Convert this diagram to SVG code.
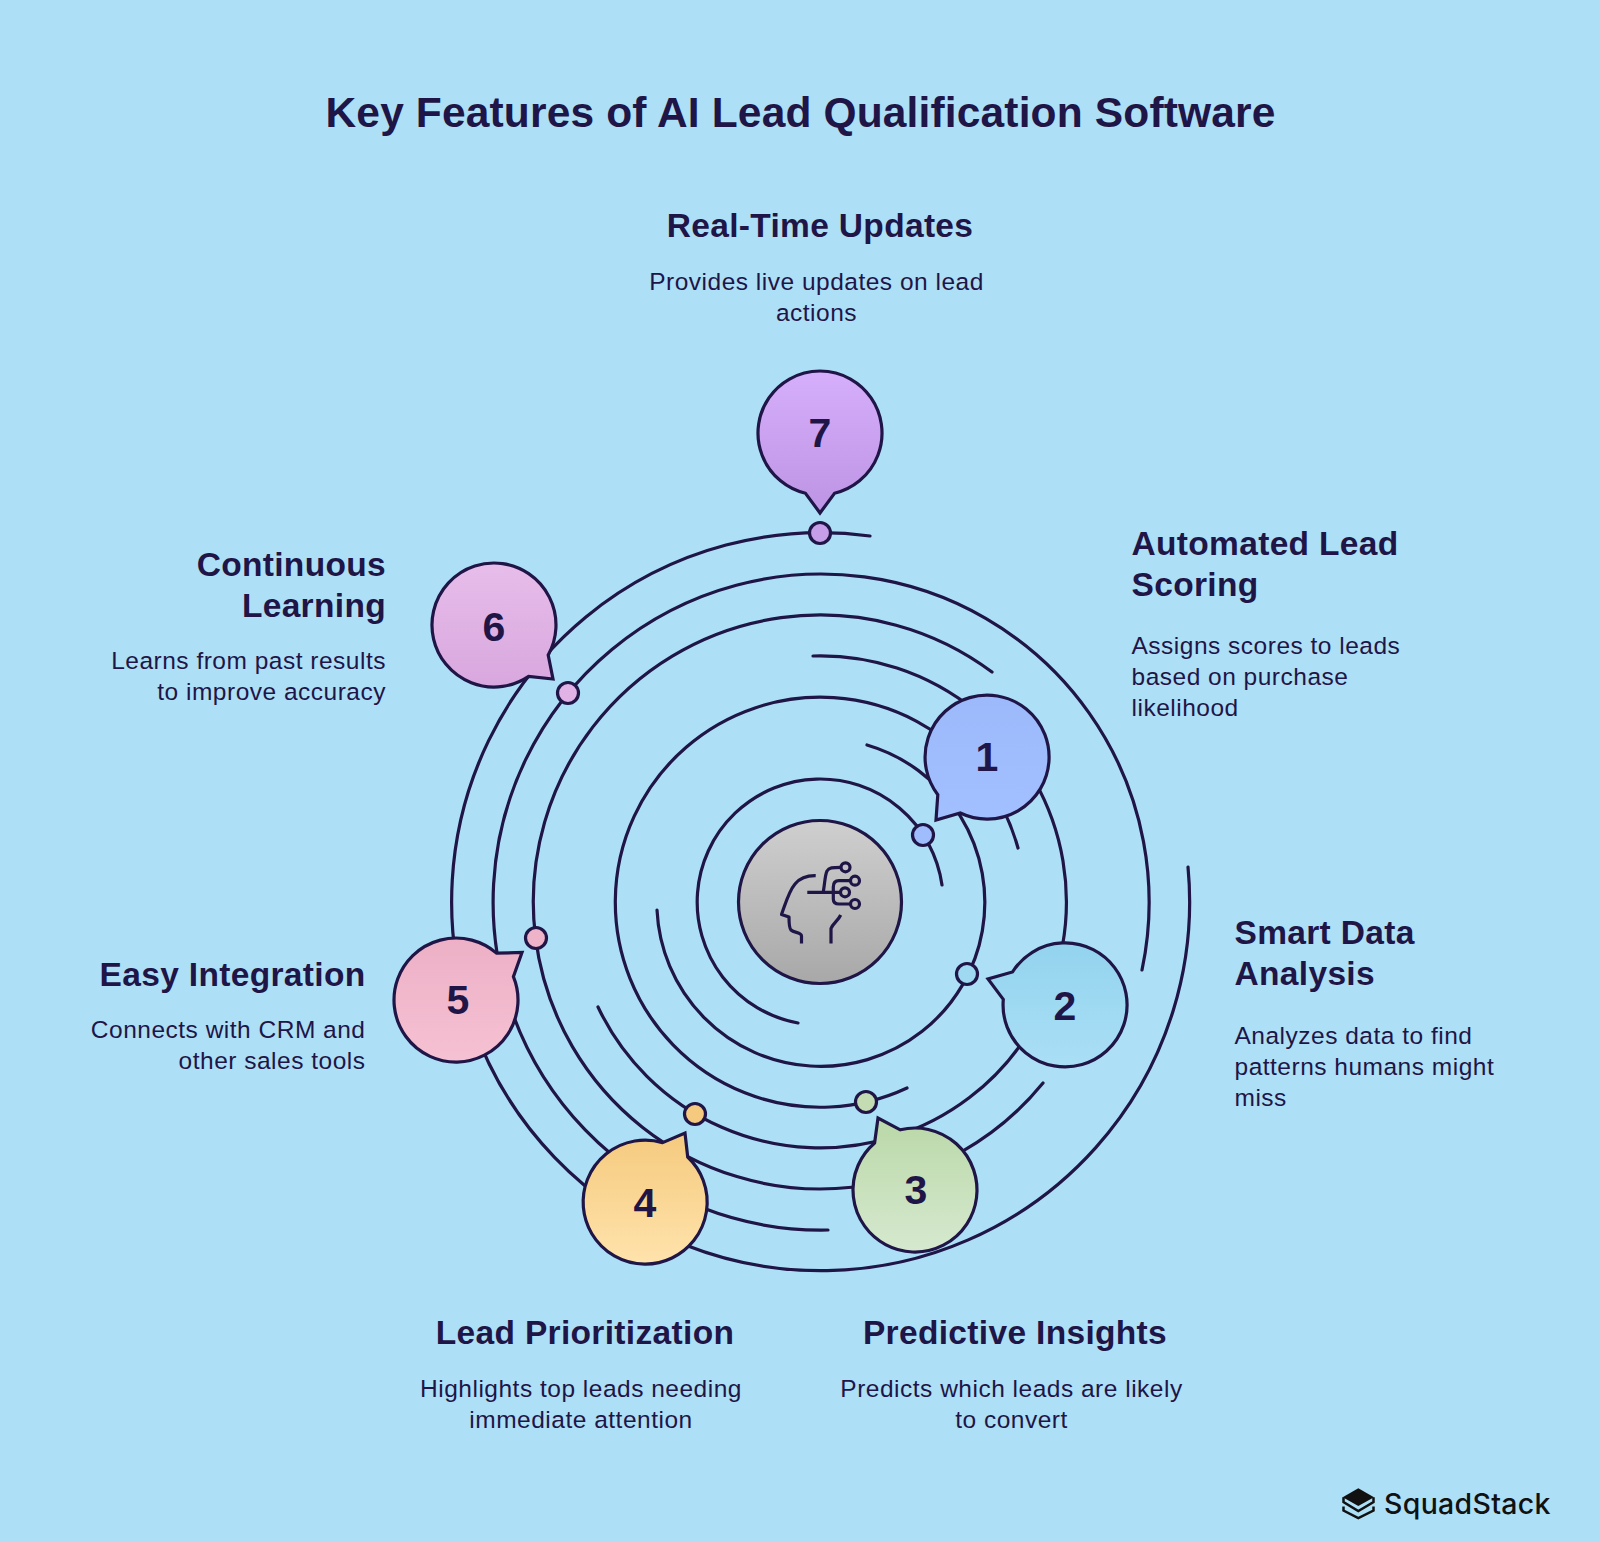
<svg xmlns="http://www.w3.org/2000/svg" width="1600" height="1542" viewBox="0 0 1600 1542">
<style>
text{font-family:"Liberation Sans",Arial,sans-serif;fill:#1f1546}
.t{font-size:42.5px;font-weight:700;text-anchor:middle;letter-spacing:.15px}
.h{font-size:33.5px;font-weight:700;letter-spacing:.33px}
.b{font-size:24.5px;letter-spacing:.5px}
.n{font-size:41px;font-weight:700;text-anchor:middle}
.m{text-anchor:middle}.e{text-anchor:end}
.ln{fill:none;stroke:#1f1546;stroke-width:3.2;stroke-linecap:round}
.o{stroke:#1f1546;stroke-width:3.2;stroke-linejoin:miter}
.ic{fill:none;stroke:#1f1546;stroke-width:3.2;stroke-linecap:butt;stroke-linejoin:round}
</style>
<defs>
<linearGradient id="g0" x1="0" y1="0" x2="0" y2="1"><stop offset="0" stop-color="#cfcfcf"/><stop offset="1" stop-color="#a8a8a8"/></linearGradient>
<linearGradient id="g1" x1="0" y1="0" x2="0" y2="1"><stop offset="0" stop-color="#9cb9fb"/><stop offset="1" stop-color="#a2bfff"/></linearGradient>
<linearGradient id="g2" x1="0" y1="0" x2="0" y2="1"><stop offset="0" stop-color="#93d3ee"/><stop offset="1" stop-color="#aadff6"/></linearGradient>
<linearGradient id="g3" x1="0" y1="0" x2="0" y2="1"><stop offset="0" stop-color="#bad8a8"/><stop offset="1" stop-color="#d6e9cf"/></linearGradient>
<linearGradient id="g4" x1="0" y1="0" x2="0" y2="1"><stop offset="0" stop-color="#f5ca7e"/><stop offset="1" stop-color="#ffe3ac"/></linearGradient>
<linearGradient id="g5" x1="0" y1="0" x2="0" y2="1"><stop offset="0" stop-color="#edb0c6"/><stop offset="1" stop-color="#f6c1d3"/></linearGradient>
<linearGradient id="g6" x1="0" y1="0" x2="0" y2="1"><stop offset="0" stop-color="#e7bdea"/><stop offset="1" stop-color="#d8a7de"/></linearGradient>
<linearGradient id="g7" x1="0" y1="0" x2="0" y2="1"><stop offset="0" stop-color="#d5aefc"/><stop offset="1" stop-color="#bd94e3"/></linearGradient>
</defs>
<rect width="1600" height="1542" fill="#ade0f7"/>
<text class="t" x="800.5" y="127">Key Features of AI Lead Qualification Software</text>
<g id="connectors">
<path class="ln" d="M798 1023A123 123 0 1 1 942 885"/>
<path class="ln" d="M867 745A164 164 0 1 1 657 910"/>
<path class="ln" d="M907 1088A205 205 0 1 1 1018 848"/>
<path class="ln" d="M813 656A246 246 0 1 1 598 1007"/>
<path class="ln" d="M1043 1083A287 287 0 1 1 992 672"/>
<path class="ln" d="M828 1230A328 328 0 1 1 1142 970"/>
<path class="ln" d="M1188 867A369 369 0 1 1 870 536"/>
</g>
<g id="center"><circle cx="820" cy="902" r="81.5" fill="url(#g0)" class="o"/>
<path class="ic" d="M815.7 875.7C807 875.5 800 878 795 884C789 891 786 902 781.5 914.5L789 917C789 923 789 928 791 930C794 933 801.5 932 801.5 936V943.5M831 943.5V928.5C833 923 838 921 840.7 915M807.3 892.3H840.5M823.3 891.7C825 882 825 875 827 871C829 867.500 832 867.300 841.500 867.300M850.500 880.700H839C835 880.700 833.300 883 833.300 887V899C833.300 902.500 835 904 839 904H850.500"/>
<circle class="ic" cx="845.500" cy="867.300" r="4.500"/><circle class="ic" cx="855" cy="880.700" r="4.500"/><circle class="ic" cx="845" cy="892.300" r="4.500"/><circle class="ic" cx="855" cy="904" r="4.500"/>
</g>
<g id="node-1"><circle cx="923" cy="835" r="10.500" fill="#9fbcfd" class="o"/><path class="o" fill="url(#g1)" d="M937.8 794.7A62 62 0 1 1 960.3 813L936 820Z"/><text class="n" x="987" y="771">1</text>
<text class="h" x="1131.500" y="555">Automated Lead</text><text class="h" x="1131.500" y="596">Scoring</text>
<text class="b" x="1131.500" y="654">Assigns scores to leads</text><text class="b" x="1131.500" y="685">based on purchase</text><text class="b" x="1131.500" y="716">likelihood</text></g>
<g id="node-2"><circle cx="967" cy="974" r="10.500" fill="#9ed8f1" class="o"/><path class="o" fill="url(#g2)" d="M1012.5 972A62 62 0 1 1 1003.3 999.4L988 979Z"/><text class="n" x="1065" y="1020">2</text>
<text class="h" x="1234.500" y="944">Smart Data</text><text class="h" x="1234.500" y="985">Analysis</text>
<text class="b" x="1234.500" y="1044">Analyzes data to find</text><text class="b" x="1234.500" y="1075">patterns humans might</text><text class="b" x="1234.500" y="1106">miss</text></g>
<g id="node-3"><circle cx="866" cy="1102" r="10.500" fill="#c4dcb2" class="o"/><path class="o" fill="url(#g3)" d="M900.3 1129.8A62 62 0 1 1 874.6 1143L878 1118Z"/><text class="n" x="916" y="1204">3</text>
<text class="h m" x="1015" y="1344">Predictive Insights</text>
<text class="b m" x="1011.500" y="1397">Predicts which leads are likely</text><text class="b m" x="1011.500" y="1428">to convert</text></g>
<g id="node-4"><circle cx="695" cy="1114" r="10.500" fill="#f6ca7e" class="o"/><path class="o" fill="url(#g4)" d="M687.7 1157A62 62 0 1 1 662.6 1142.600L685 1133Z"/><text class="n" x="645" y="1217">4</text>
<text class="h m" x="585" y="1344">Lead Prioritization</text>
<text class="b m" x="581" y="1397">Highlights top leads needing</text><text class="b m" x="581" y="1428">immediate attention</text></g>
<g id="node-5"><circle cx="536" cy="938" r="10.500" fill="#eeb3c8" class="o"/><path class="o" fill="url(#g5)" d="M513.4 976.6A62 62 0 1 1 496.5 953.1L522 952.5Z"/><text class="n" x="458" y="1014">5</text>
<text class="h e" x="365.500" y="986">Easy Integration</text>
<text class="b e" x="365.500" y="1038">Connects with CRM and</text><text class="b e" x="365.500" y="1069">other sales tools</text></g>
<g id="node-6"><circle cx="568" cy="693" r="10.500" fill="#e1b2e5" class="o"/><path class="o" fill="url(#g6)" d="M528.7 676.4A62 62 0 1 1 548.2 655.1L553 679Z"/><text class="n" x="494" y="641">6</text>
<text class="h e" x="386" y="575.500">Continuous</text><text class="h e" x="386" y="616.500">Learning</text>
<text class="b e" x="386" y="669">Learns from past results</text><text class="b e" x="386" y="700">to improve accuracy</text></g>
<g id="node-7"><circle cx="820" cy="533" r="10.500" fill="#c59de9" class="o"/><path class="o" fill="url(#g7)" d="M805.5 493.3A62 62 0 1 1 834.5 493.3L820 513Z"/><text class="n" x="820" y="447">7</text>
<text class="h m" x="820" y="237">Real-Time Updates</text>
<text class="b m" x="816.500" y="290">Provides live updates on lead</text><text class="b m" x="816.500" y="321">actions</text></g>
<g id="logo"><path fill="#111" d="M1358.300 1488.300L1374 1497.300L1358.300 1506L1342.700 1497.300Z"/><path fill="none" stroke="#111" stroke-width="2.500" d="M1343.500 1497.300V1502L1358.300 1511L1373.500 1502V1497.300M1343.500 1506.500V1510.500L1358.300 1518L1373.500 1510.500V1506.500"/>
<text x="1384" y="1514" style="font-family:Inter,'Liberation Sans',sans-serif;font-size:28.500px;font-weight:500;letter-spacing:.3px;fill:#111">SquadStack</text></g>
</svg>
